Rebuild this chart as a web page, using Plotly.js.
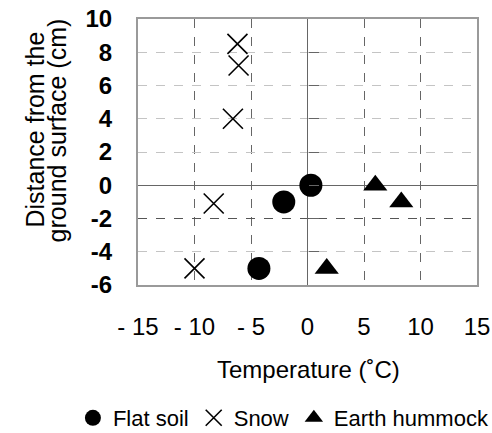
<!DOCTYPE html>
<html>
<head>
<meta charset="utf-8">
<script src="https://cdn.plot.ly/plotly-3.0.1.min.js"></script>
<style>html,body{margin:0;padding:0;background:#fff;}#chart{width:492px;height:433px;}</style>
</head>
<body>
<div id="chart"></div>
<script>
// Data
const seriesNames = ["Flat soil", "Snow", "Earth hummock"];
const flatSoilX = [0.3, -2.1, -4.3];
const flatSoilY = [0, -1, -5];
const snowX = [-6.2, -6.1, -6.6, -8.3, -10.0];
const snowY = [8.5, 7.2, 4.0, -1.1, -5.0];
const hummockX = [6.0, 8.3, 1.7];
const hummockY = [0, -1, -5];
const xTickVals = [-15, -10, -5, 0, 5, 10, 15];
const yTickVals = [-6, -4, -2, 0, 2, 4, 6, 8, 10];
const xTitle = "Temperature (\u02DAC)";
const yTitleLines = ["Distance from the", "ground surface (cm)"];

const FONT = "Liberation Sans, Arial, sans-serif";

const traces = [
  {x: flatSoilX, y: flatSoilY, name: seriesNames[0], type: "scatter", mode: "markers",
   marker: {symbol: "circle", size: 23, color: "#000"}},
  {x: snowX, y: snowY, name: seriesNames[1], type: "scatter", mode: "markers",
   marker: {symbol: "x-thin-open", size: 20, color: "#000", line: {color: "#000", width: 1.6}}},
  {x: hummockX, y: hummockY, name: seriesNames[2], type: "scatter", mode: "markers",
   marker: {symbol: "triangle-up", size: 21, color: "#000"}},
  // invisible helper traces to carry the overlay axes (tick marks on the zero line, darker -2 grid)
  {x: [0], y: [0], xaxis: "x", yaxis: "y2", mode: "markers", marker: {opacity: 0}, showlegend: false, hoverinfo: "skip"},
  {x: [0], y: [0], xaxis: "x", yaxis: "y3", mode: "markers", marker: {opacity: 0}, showlegend: false, hoverinfo: "skip"}
];

const layout = {
  width: 492, height: 433,
  margin: {l: 138, r: 15, t: 19, b: 148, autoexpand: false},
  paper_bgcolor: "#fff", plot_bgcolor: "#fff",
  font: {family: FONT, color: "#000", size: 20},
  showlegend: true,
  legend: {
    orientation: "h", xref: "paper", yref: "paper",
    x: -0.192, xanchor: "left", y: -0.5, yanchor: "middle",
    font: {family: FONT, size: 22, color: "#000"},
    itemwidth: 30, traceorder: "normal", bgcolor: "rgba(0,0,0,0)"
  },
  xaxis: {
    range: [-15, 15], tickvals: xTickVals, ticktext: xTickVals.map(v => v < 0 ? "- " + Math.abs(v) : String(v)),
    showgrid: true, gridcolor: "#666", griddash: "dash", gridwidth: 1,
    zeroline: true, zerolinecolor: "#666", zerolinewidth: 1.5,
    showline: true, linecolor: "#9a9a9a", linewidth: 2, mirror: true,
    ticks: "outside", ticklen: 19, tickcolor: "rgba(0,0,0,0)",
    tickfont: {family: FONT, size: 24, color: "#000"},
    fixedrange: true
  },
  yaxis: {
    range: [-6, 10], tickvals: yTickVals, ticktext: yTickVals.map(v => v < 0 ? "-" + Math.abs(v) : String(v)),
    showgrid: true, gridcolor: "#c4c4c4", griddash: "dash", gridwidth: 1,
    zeroline: true, zerolinecolor: "#666", zerolinewidth: 1.5,
    showline: true, linecolor: "#9a9a9a", linewidth: 2, mirror: true,
    ticks: "outside", ticklen: 19, tickcolor: "rgba(0,0,0,0)",
    tickfont: {family: FONT, size: 24, color: "#000", weight: "bold"},
    fixedrange: true
  },
  yaxis2: {
    overlaying: "y", anchor: "free", position: 0.5, side: "left",
    range: [-6, 10], tickvals: yTickVals, showticklabels: false,
    ticks: "inside", ticklen: 10, tickcolor: "#666", tickwidth: 1,
    showgrid: false, zeroline: false, showline: false, fixedrange: true
  },
  yaxis3: {
    overlaying: "y", anchor: "x", side: "left",
    range: [-6, 10], tickvals: [-2], showticklabels: false, ticks: "",
    showgrid: true, gridcolor: "#555", griddash: "dash", gridwidth: 1,
    zeroline: false, showline: false, fixedrange: true
  },
  annotations: [
    {text: yTitleLines[0], xref: "paper", yref: "paper", x: -0.305, y: 0.583,
     xanchor: "center", yanchor: "middle", textangle: -90, showarrow: false,
     font: {family: FONT, size: 25, color: "#000"}},
    {text: yTitleLines[1], xref: "paper", yref: "paper", x: -0.2405, y: 0.583,
     xanchor: "center", yanchor: "middle", textangle: -90, showarrow: false,
     font: {family: FONT, size: 25, color: "#000"}},
    {text: xTitle, xref: "paper", yref: "paper", x: 0.504, y: -0.3195,
     xanchor: "center", yanchor: "middle", showarrow: false,
     font: {family: FONT, size: 24, color: "#000"}}
  ]
};

Plotly.newPlot("chart", traces, layout, {displayModeBar: false, staticPlot: true});
</script>
</body>
</html>
